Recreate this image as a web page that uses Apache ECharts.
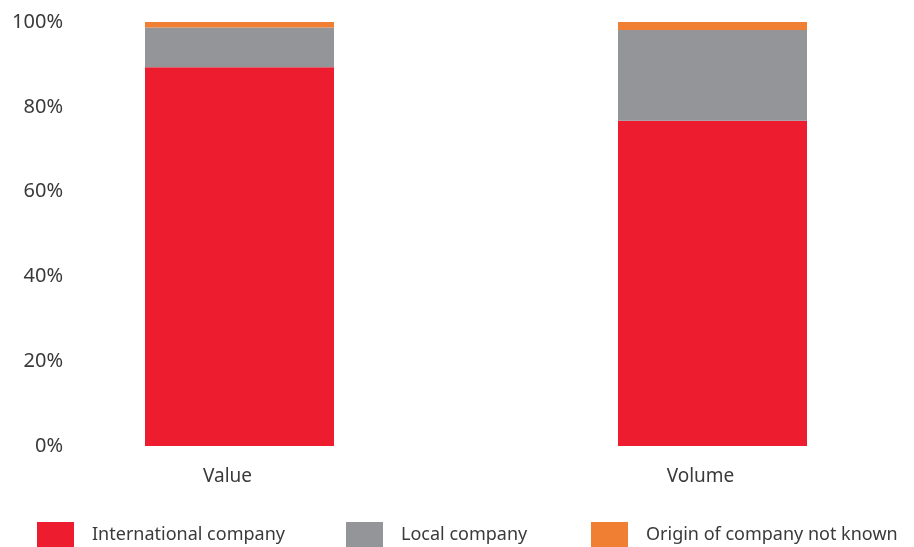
<!DOCTYPE html>
<html>
<head>
<meta charset="utf-8">
<script src="https://cdn.jsdelivr.net/npm/echarts@6/dist/echarts.min.js"></script>
<style>
  html, body { margin: 0; padding: 0; background: #fff; }
  #chart { width: 914px; height: 547px; }
</style>
</head>
<body>
<div id="chart"></div>
<script>
// Share of deals by company origin, stacked to 100%
const categories = ['Value', 'Volume'];
const international = [89.3, 76.7];
const local = [9.4, 21.4];
const unknownOrigin = [1.3, 1.9];
const yTicks = [0, 20, 40, 60, 80, 100];

const seriesNames = ['International company', 'Local company', 'Origin of company not known'];
const seriesColors = ['#ED1C2E', '#939598', '#F07F33'];
const seriesData = [international, local, unknownOrigin];

const FONT = '"Noto Sans", sans-serif';
const TEXT = '#3a3a3a';

const chart = echarts.init(document.getElementById('chart'), null, { renderer: 'canvas' });

const legendLefts = [32, 341, 586];

chart.setOption({
  animation: false,
  backgroundColor: '#ffffff',
  grid: {
    left: 3, width: 946, top: 22, bottom: 101,
    containLabel: false, outerBoundsMode: 'none'
  },
  xAxis: {
    type: 'category',
    data: categories,
    axisLine: { show: false },
    axisTick: { show: false },
    axisLabel: {
      color: TEXT, fontFamily: FONT, fontSize: 19, margin: 21,
      padding: [0, 24, 0, 0]
    }
  },
  yAxis: {
    type: 'value',
    min: yTicks[0],
    max: yTicks[yTicks.length - 1],
    interval: 20,
    splitLine: { show: false },
    axisLine: { show: false },
    axisTick: { show: false },
    axisLabel: {
      color: TEXT, fontFamily: FONT, fontSize: 20, margin: -60,
      formatter: v => v + '%'
    }
  },
  legend: seriesNames.map((name, i) => ({
    data: [name],
    left: legendLefts[i],
    top: 517,
    itemWidth: 37,
    itemHeight: 25,
    icon: 'rect',
    textStyle: { color: TEXT, fontFamily: FONT, fontSize: 18, padding: [0, 0, 0, 13] }
  })),
  series: seriesNames.map((name, i) => ({
    name: name,
    type: 'bar',
    stack: 'share',
    barWidth: 189,
    data: seriesData[i],
    itemStyle: { color: seriesColors[i] }
  }))
});
</script>
</body>
</html>
